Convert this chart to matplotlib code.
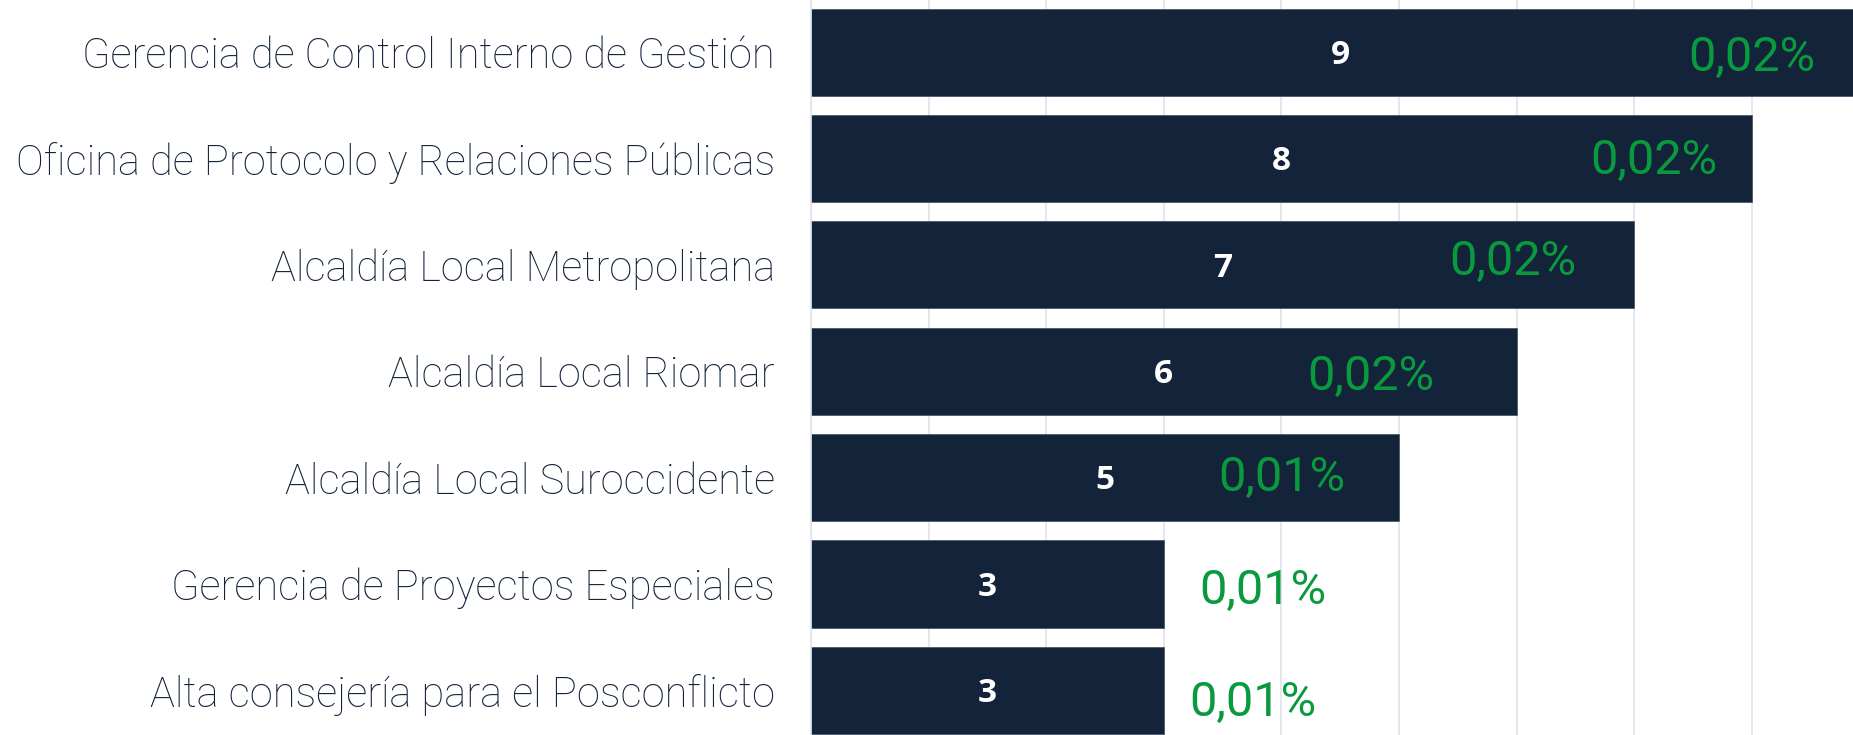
import matplotlib
matplotlib.use("Agg")
import matplotlib.pyplot as plt
import numpy as np

# ── Data ──────────────────────────────────────────────────────────────────────
categories = [
    "Gerencia de Control Interno de Gestión",
    "Oficina de Protocolo y Relaciones Públicas",
    "Alcaldía Local Metropolitana",
    "Alcaldía Local Riomar",
    "Alcaldía Local Suroccidente",
    "Gerencia de Proyectos Especiales",
    "Alta consejería para el Posconflicto",
]
counts = [9, 8, 7, 6, 5, 3, 3]
shares = ["0,02%", "0,02%", "0,02%", "0,02%", "0,01%", "0,01%", "0,01%"]

# label placement (offset of the green share label from the bar end, data units)
share_dx = [-1.0, -0.83, -1.03, -1.24, -1.0, 0.84, 0.76]
share_dy = [0.05, 0.02, -0.03, 0.05, 0.0, 0.07, 0.12]

# ── Style ─────────────────────────────────────────────────────────────────────
BAR_COLOR  = "#12233a"
TEXT_COLOR = "#12233a"
PCT_COLOR  = "#0a9a3e"
GRID_COLOR = "#dfe4ea"

fig = plt.figure(figsize=(18.53, 7.35), dpi=100)
ax = fig.add_axes([811 / 1853, 0.0, 1 - 811 / 1853, 1.0])

y = np.arange(len(categories))
ax.barh(y, counts, height=0.82, color=BAR_COLOR, edgecolor="#4a5a6e",
        linewidth=0.6, zorder=2)

ax.set_xlim(0, 8.86)
ax.set_ylim(6.42, -0.49)
ax.set_xticks(np.arange(0, 9))
ax.xaxis.grid(True, color=GRID_COLOR, linewidth=1.2, zorder=0)
ax.set_axisbelow(True)
ax.tick_params(axis="x", length=0, labelbottom=False)
ax.tick_params(axis="y", length=0, pad=26)
ax.set_yticks(y)
ax.set_yticklabels(categories, fontsize=30, color=TEXT_COLOR,
                   fontfamily="Roboto", fontweight="light")
for side in ["top", "right", "bottom"]:
    ax.spines[side].set_visible(False)
ax.spines["left"].set_color(GRID_COLOR)
ax.spines["left"].set_linewidth(1.2)

for i, (c, s) in enumerate(zip(counts, shares)):
    ax.text(c / 2, i + 0.03, str(c), ha="center", va="center", fontsize=24,
            color="white", fontweight="bold", fontfamily="Open Sans", zorder=3)
    ax.text(c + share_dx[i], i + share_dy[i], s, ha="center", va="center",
            fontsize=35, color=PCT_COLOR, fontfamily="Roboto", zorder=3)

fig.savefig("out.png", dpi=100)
